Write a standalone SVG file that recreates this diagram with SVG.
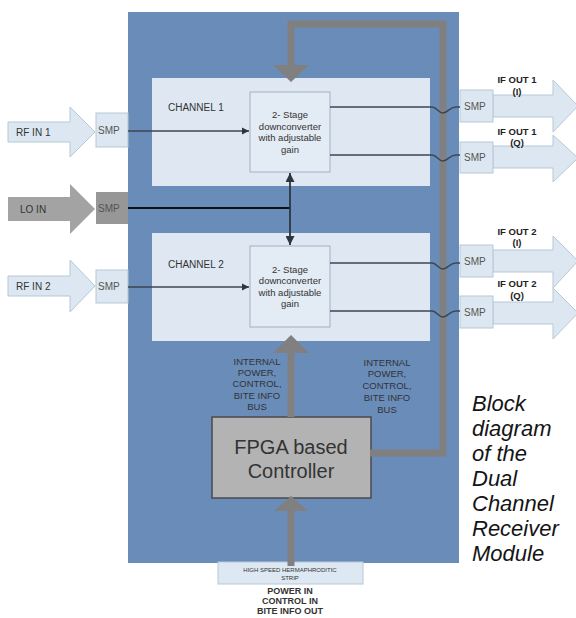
<svg xmlns="http://www.w3.org/2000/svg" width="576" height="618" viewBox="0 0 576 618">
<style>
.t{font-family:"Liberation Sans",Arial,sans-serif;fill:#333}
.s{font-size:10px;fill:#555}
.b{font-weight:bold;font-size:9.5px;fill:#222}
.arr{fill:#dce7f2;stroke:#b7c7d8;stroke-width:1}
.smp{fill:#dce7f2;stroke:#b7c7d8;stroke-width:1}
.panel{fill:#dfe8f2}
.blk{fill:#e3ebf4;stroke:#9fb1c4;stroke-width:1}
.bus{fill:none;stroke:#808080;stroke-width:7}
.sig{fill:none;stroke:#3c4650;stroke-width:1.5}
.cap{font-family:"Liberation Sans",Arial,sans-serif;font-style:italic;font-size:22px;fill:#151515}
</style>
<defs>
<marker id="ah" viewBox="0 0 10 10" refX="10" refY="5" markerWidth="5" markerHeight="5" orient="auto-start-reverse">
<path d="M0,0 L10,5 L0,10 z" fill="#2d3640"/>
</marker>
</defs>
<rect id="module" x="128" y="12" width="331" height="551" fill="#6a8cb9"/>
<g id="channel1">
<rect class="panel" x="152" y="78" width="278" height="108"/>
<text class="t" x="168" y="111" font-size="10">CHANNEL 1</text>
</g>
<g id="channel2">
<rect class="panel" x="152" y="233" width="278" height="108"/>
<text class="t" x="168" y="268" font-size="10">CHANNEL 2</text>
</g>
<g id="dc1">
<rect class="blk" x="250" y="92" width="80" height="80"/>
<text class="t" x="290" y="118" font-size="9.5" text-anchor="middle">2- Stage</text>
<text class="t" x="290" y="130" font-size="9.5" text-anchor="middle">downconverter</text>
<text class="t" x="290" y="141" font-size="9.5" text-anchor="middle">with adjustable</text>
<text class="t" x="290" y="153" font-size="9.5" text-anchor="middle">gain</text>
</g>
<g id="dc2">
<rect class="blk" x="250" y="246" width="80" height="81"/>
<text class="t" x="290" y="273" font-size="9.5" text-anchor="middle">2- Stage</text>
<text class="t" x="290" y="284" font-size="9.5" text-anchor="middle">downconverter</text>
<text class="t" x="290" y="296" font-size="9.5" text-anchor="middle">with adjustable</text>
<text class="t" x="290" y="307" font-size="9.5" text-anchor="middle">gain</text>
</g>
<g id="rfin1">
<polygon class="arr" points="8,122 70,122 70,107 95,132 70,157 70,142 8,142"/>
<text class="t" x="16" y="136" font-size="10" fill="#555">RF IN 1</text>
<rect class="smp" x="96" y="113" width="32" height="34"/>
<text class="t s" x="98" y="134">SMP</text>
</g>
<g id="loin">
<polygon points="8,197 70,197 70,184 95,209 70,234 70,221 8,221" fill="#a3a3a3"/>
<text class="t" x="20" y="213" font-size="10">LO IN</text>
<rect x="96" y="192" width="32" height="32" fill="#979797"/>
<text class="t s" x="98" y="212" fill="#444">SMP</text>
</g>
<g id="rfin2">
<polygon class="arr" points="8,276 70,276 70,260 95,286 70,312 70,296 8,296"/>
<text class="t" x="16" y="290" font-size="10" fill="#555">RF IN 2</text>
<rect class="smp" x="96" y="270" width="32" height="33"/>
<text class="t s" x="98" y="290">SMP</text>
</g>
<g id="ifout1i">
<polygon class="arr" points="493,95 553,95 553,80 578,106 553,132 553,117 493,117"/>
<rect class="smp" x="460" y="90" width="33" height="32"/>
<text class="t s" x="464" y="110">SMP</text>
<text class="t b" x="517" y="83" text-anchor="middle">IF OUT 1</text>
<text class="t b" x="517" y="95" text-anchor="middle">(I)</text>
</g>
<g id="ifout1q">
<polygon class="arr" points="493,146 553,146 553,135 578,158 553,182 553,168 493,168"/>
<rect class="smp" x="460" y="142" width="33" height="31"/>
<text class="t s" x="464" y="161">SMP</text>
<text class="t b" x="517" y="135" text-anchor="middle">IF OUT 1</text>
<text class="t b" x="517" y="146" text-anchor="middle">(Q)</text>
</g>
<g id="ifout2i">
<polygon class="arr" points="493,250 553,250 553,236 578,261 553,288 553,272 493,272"/>
<rect class="smp" x="460" y="245" width="33" height="32"/>
<text class="t s" x="464" y="265">SMP</text>
<text class="t b" x="517" y="235" text-anchor="middle">IF OUT 2</text>
<text class="t b" x="517" y="246" text-anchor="middle">(I)</text>
</g>
<g id="ifout2q">
<polygon class="arr" points="493,302 553,302 553,288 578,313 553,339 553,324 493,324"/>
<rect class="smp" x="460" y="296" width="33" height="32"/>
<text class="t s" x="464" y="316">SMP</text>
<text class="t b" x="517" y="287" text-anchor="middle">IF OUT 2</text>
<text class="t b" x="517" y="299" text-anchor="middle">(Q)</text>
</g>
<g id="fpga">
<rect x="212" y="417" width="159" height="81" fill="#b3b3b3" stroke="#4a4a4a" stroke-width="1.5"/>
<text class="t" x="291" y="454" font-size="20" text-anchor="middle" fill="#222">FPGA based</text>
<text class="t" x="291" y="478" font-size="20" text-anchor="middle" fill="#222">Controller</text>
</g>
<g id="strip">
<rect x="218" y="562" width="145" height="22" fill="#dde8f2" stroke="#b7c7d8" stroke-width="1"/>
<text class="t" x="290" y="572" font-size="6" text-anchor="middle" fill="#555">HIGH SPEED HERMAPHRODITIC</text>
<text class="t" x="290" y="580" font-size="6" text-anchor="middle" fill="#555">STRIP</text>
</g>
<g id="connectors">
<path class="bus" d="M370,453 H443 V24 H291 V66"/>
<polygon points="273,65 309,65 291,82" fill="#808080"/>
<path class="bus" d="M291,417 V352"/>
<polygon points="273,353 309,353 291,335" fill="#808080"/>
<path class="bus" d="M291,566 V510"/>
<polygon points="274,511 308,511 291,496" fill="#808080"/>
<line class="sig" x1="128" y1="131" x2="249" y2="131" marker-end="url(#ah)"/>
<line class="sig" x1="128" y1="287" x2="249" y2="287" marker-end="url(#ah)"/>
<line x1="128" y1="208" x2="291" y2="208" stroke="#111" stroke-width="2"/>
<line x1="290" y1="173" x2="290" y2="245" stroke="#2d3640" stroke-width="1.8" marker-start="url(#ah)" marker-end="url(#ah)"/>
<path class="sig" d="M330,107 H432 C437,107 438,113 443,113 C448,113 449,107 456,107 H460"/>
<path class="sig" d="M330,155 H432 C437,155 438,161 443,161 C448,161 449,155 456,155 H460"/>
<path class="sig" d="M330,263 H432 C437,263 438,269 443,269 C448,269 449,263 456,263 H460"/>
<path class="sig" d="M330,311 H432 C437,311 438,317 443,317 C448,317 449,311 456,311 H460"/>
</g>
<g id="buslabel1" class="t" font-size="9.5" text-anchor="middle" fill="#2a2a2a">
<text x="257" y="365">INTERNAL</text>
<text x="257" y="376">POWER,</text>
<text x="257" y="387">CONTROL,</text>
<text x="257" y="399">BITE INFO</text>
<text x="257" y="410">BUS</text>
</g>
<g id="buslabel2" class="t" font-size="9.5" text-anchor="middle" fill="#2a2a2a">
<text x="387" y="366">INTERNAL</text>
<text x="387" y="377">POWER,</text>
<text x="387" y="389">CONTROL,</text>
<text x="387" y="401">BITE INFO</text>
<text x="387" y="413">BUS</text>
</g>
<g id="powerlabel" class="t" font-size="9" font-weight="bold" text-anchor="middle" fill="#222">
<text x="290" y="594">POWER IN</text>
<text x="290" y="604">CONTROL IN</text>
<text x="290" y="614">BITE INFO OUT</text>
</g>
<g id="caption">
<text class="cap" x="472" y="411">Block</text>
<text class="cap" x="472" y="436">diagram</text>
<text class="cap" x="472" y="461">of the</text>
<text class="cap" x="472" y="486">Dual</text>
<text class="cap" x="472" y="511">Channel</text>
<text class="cap" x="472" y="536">Receiver</text>
<text class="cap" x="472" y="561">Module</text>
</g>
</svg>
